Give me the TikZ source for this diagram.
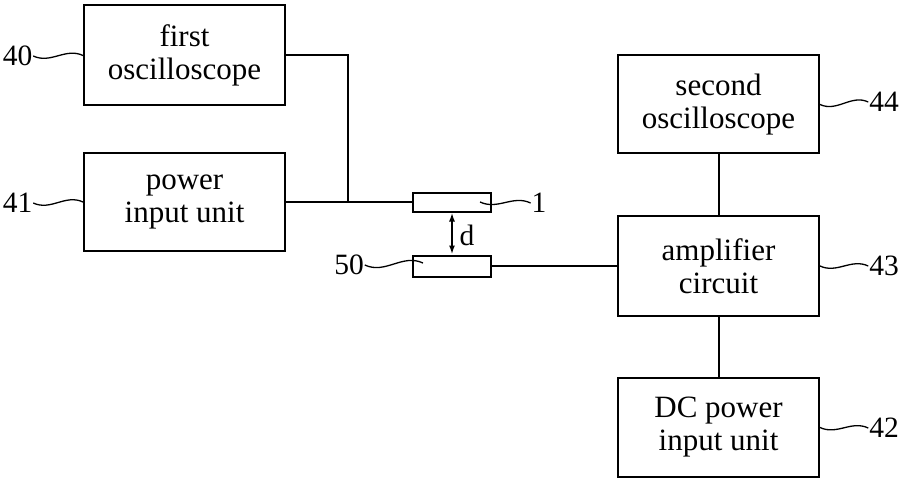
\documentclass[tikz,border=0pt]{standalone}
\usepackage{fontspec}
\setmainfont{Liberation Serif}
\usetikzlibrary{arrows.meta}
\begin{document}
\begin{tikzpicture}[x=1pt,y=-1pt, line width=2pt,
  box/.style={draw, minimum width=201pt, minimum height=100pt, align=center,
    font=\fontsize{31}{33}\selectfont, inner sep=0pt},
  elem/.style={draw, minimum width=78pt, minimum height=19pt, inner sep=0pt},
  lbl/.style={font=\fontsize{29.5}{32}\selectfont, inner sep=0pt},
  wave/.style={line width=1.3pt, out=-25, in=155}]
\useasboundingbox (0,0) rectangle (901,481);
\node[box] (fo) at (184.5,55.5) {first\\oscilloscope};
\node[box, minimum height=98pt] (pi) at (184.5,202) {power\\input unit};
\node[elem] (e1) at (452,202) {};
\node[elem, minimum height=21pt] (e50) at (452,266) {};
\node[box, minimum height=98pt] (so) at (718.5,104.5) {second\\oscilloscope};
\node[box] (am) at (718.5,266) {amplifier\\circuit};
\node[box, minimum height=99pt] (dc) at (718.5,427.5) {DC power\\input unit};
\coordinate (j) at (348,202);
\draw (fo.east) -| (j);
\draw (pi.east) -- (e1.west);
\draw (e50.east) -- (am.west);
\draw (so.south) -- (am.north);
\draw (am.south) -- (dc.north);
\draw[{Latex[length=9pt,width=6pt]}-{Latex[length=9pt,width=6pt]}] (e1.south) -- (e50.north);
\node[lbl] (d) at (467,235) {d};
\node[lbl] (l40) at (17.5,56) {40};
\node[lbl] (l41) at (17.5,203) {41};
\node[lbl] (l44) at (884,102) {44};
\node[lbl] (l43) at (884,266) {43};
\node[lbl] (l42) at (884,428) {42};
\node[lbl] (l1) at (539,203) {1};
\node[lbl] (l50) at (349,265) {50};
\coordinate (w1) at (480,202);
\coordinate (w50) at (423,263);
\draw[wave] (l40.east) to (fo.west);
\draw[wave] (l41.east) to (pi.west);
\draw[wave] (so.east) to (l44.west);
\draw[wave] (am.east) to (l43.west);
\draw[wave] (dc.east) to (l42.west);
\draw[wave] (w1) to (l1.west);
\draw[wave] (l50.east) to (w50);
\end{tikzpicture}
\end{document}
